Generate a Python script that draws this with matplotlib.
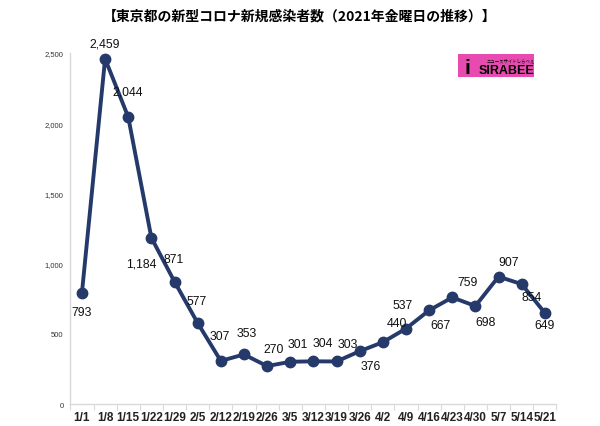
import matplotlib
matplotlib.use("Agg")
import matplotlib.pyplot as plt
from matplotlib.patches import Rectangle
from matplotlib.ticker import FuncFormatter, FixedLocator

plt.rcParams['font.family'] = ['Liberation Sans', 'Noto Sans CJK JP', 'DejaVu Sans']

dates = ["1/1", "1/8", "1/15", "1/22", "1/29", "2/5", "2/12", "2/19", "2/26", "3/5",
         "3/12", "3/19", "3/26", "4/2", "4/9", "4/16", "4/23", "4/30", "5/7", "5/14", "5/21"]
cases = [793, 2459, 2044, 1184, 871, 577, 307, 353, 270, 301,
         304, 303, 376, 440, 537, 667, 759, 698, 907, 854, 649]
yticks = [0, 500, 1000, 1500, 2000, 2500]
title = "【東京都の新型コロナ新規感染者数（2021年金曜日の推移）】"

# label offsets in pixels (dx, dy) so labels dodge the line
offsets = [(0, -19), (0, 15), (-1, 26), (-10, -26), (-1, 23), (-1, 22), (-1, 25),
           (3, 21), (7, 17), (8, 18), (9, 18), (11, 17), (11, -15), (14, 19),
           (-3, 24), (11, -15), (15, 15), (10, -16), (10, 15), (10, -13), (0, -12)]

navy = "#253a6b"
grey = "#d9d9d9"

fig = plt.figure(figsize=(6, 4.27), dpi=100)
ax = fig.add_axes([0.1173, 0.0515, 0.81, 0.822])

x = list(range(len(dates)))
ax.plot(x, cases, color=navy, lw=2.8, marker="o", ms=7.5, solid_joinstyle="round")

for xi, v, (dx, dy) in zip(x, cases, offsets):
    ax.annotate(f"{v:,}", (xi, v), xytext=(dx, dy), textcoords="offset pixels",
                ha="center", va="center", fontsize=8.8, color="#111111")

ax.set_xlim(-0.5, len(dates) - 0.5)
ax.set_ylim(0, 2500)
ax.set_xticks(x)
ax.set_xticklabels(dates, fontsize=8.5, fontweight="bold", color="#222222")
ax.xaxis.set_minor_locator(FixedLocator([i + 0.5 for i in range(-1, len(dates))]))
ax.tick_params(axis="x", which="major", length=0, pad=5)
ax.tick_params(axis="x", which="minor", length=4, color=grey, width=0.8)
ax.set_yticks(yticks)
ax.yaxis.set_major_formatter(FuncFormatter(lambda v, p: f"{int(v):,}"))
ax.tick_params(axis="y", length=0, pad=5, labelsize=5.5, labelcolor="#333333")

for s in ["top", "right"]:
    ax.spines[s].set_visible(False)
for s in ["left", "bottom"]:
    ax.spines[s].set_color(grey)
    ax.spines[s].set_linewidth(1)

fig.text(0.5, 1 - 17 / 427, title, ha="center", va="center", fontsize=10,
         fontweight="bold", family=["Noto Sans CJK JP", "DejaVu Sans"])

# SIRABEE logo
fig.add_artist(Rectangle((458 / 600, 1 - 78 / 427), 76 / 600, 23 / 427,
                         transform=fig.transFigure, facecolor="#e84bb0", edgecolor="none"))
fig.text(467 / 600, 1 - 68 / 427, "i", ha="center", va="center", fontsize=15,
         fontweight="bold", color="black")
fig.text(507 / 600, 1 - 71 / 427, "SIRABEE", ha="center", va="center", fontsize=9,
         fontweight="bold", color="black")
fig.text(511 / 600, 1 - 61 / 427, "ニュースサイトしらべぇ", ha="center", va="center",
         fontsize=3.2, color="black", family=["Noto Sans CJK JP", "DejaVu Sans"])

fig.savefig("out.png", dpi=100)
